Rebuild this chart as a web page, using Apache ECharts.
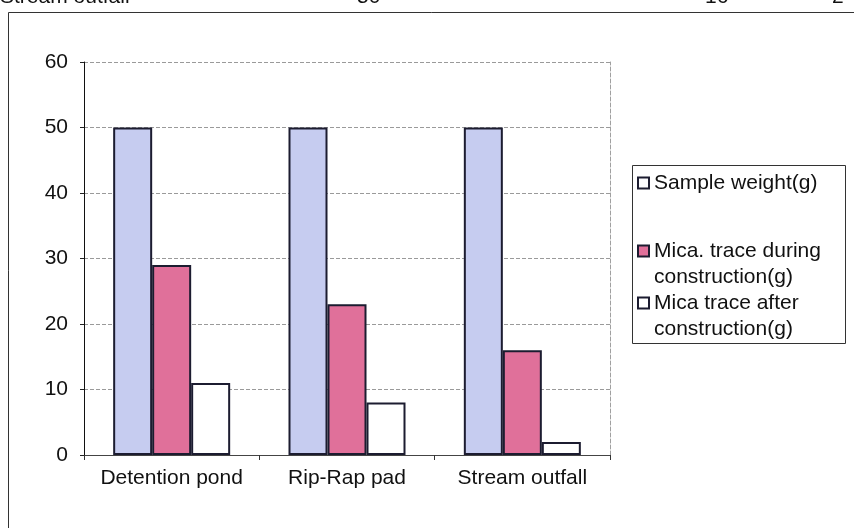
<!DOCTYPE html>
<html>
<head>
<meta charset="utf-8">
<script src="https://cdn.jsdelivr.net/npm/echarts@6/dist/echarts.min.js"></script>
<style>
  html, body { margin: 0; padding: 0; background: #ffffff; }
  #chart { width: 854px; height: 528px; }
</style>
</head>
<body>
<div id="chart"></div>
<script>
// Sampling sites
const categories = ['Detention pond', 'Rip-Rap pad', 'Stream outfall'];

// Weights in grams per site
const sampleWeight = [50, 50, 50];
const traceDuring = [29, 23, 16];
const traceAfter = [11, 8, 2];

const seriesNames = [
  'Sample weight(g)',
  'Mica. trace during construction(g)',
  'Mica trace after construction(g)'
];
// Wrapped legend captions; the leading blank line keeps the marker beside the first line
const legendLabels = {
  'Sample weight(g)': 'Sample weight(g)',
  'Mica. trace during construction(g)': ' \nMica. trace during\nconstruction(g)',
  'Mica trace after construction(g)': ' \nMica trace after\nconstruction(g)'
};

const yTicks = { min: 0, max: 60, interval: 10 };

const FONT = 'Arial, "Liberation Sans", sans-serif';
const BORDER = '#1c1c30';

const chart = echarts.init(document.getElementById('chart'), null, { renderer: 'canvas' });

function legendFor(name, top, iconColor) {
  return {
    data: [iconColor ? { name: name, itemStyle: { color: iconColor } } : name],
    orient: 'vertical',
    left: 637,
    top: top,
    padding: 0,
    icon: 'rect',
    itemWidth: 11,
    itemHeight: 11,
    selectedMode: false,
    formatter: n => legendLabels[n],
    textStyle: {
      fontFamily: FONT,
      fontSize: 21,
      lineHeight: 26,
      color: '#111'
    },
    z: 5
  };
}

// Last row of the data table printed above the chart (partly cut off)
const headerRow = [
  { text: categories[2], x: 0 },
  { text: String(sampleWeight[2]), x: 357 },
  { text: String(traceDuring[2]), x: 705 },
  { text: String(traceAfter[2]), x: 832 }
];

const option = {
  backgroundColor: '#ffffff',
  animation: false,
  grid: { left: 84, right: 244, top: 62, bottom: 73, containLabel: false },
  legend: [
    legendFor(seriesNames[0], 170, '#fbfbfd'),
    legendFor(seriesNames[1], 212),
    legendFor(seriesNames[2], 264)
  ],
  xAxis: {
    type: 'category',
    data: categories,
    axisLine: { show: true, lineStyle: { color: '#444', width: 1 } },
    axisTick: { show: true, alignWithLabel: false, length: 5, lineStyle: { color: '#333' } },
    axisLabel: { interval: 0, fontFamily: FONT, fontSize: 21, color: '#111', margin: 13 },
    splitLine: { show: false }
  },
  yAxis: [
    {
      type: 'value',
      min: yTicks.min,
      max: yTicks.max,
      interval: yTicks.interval,
      axisLine: { show: true, lineStyle: { color: '#111', width: 1 } },
      axisTick: { show: true, length: 4, lineStyle: { color: '#222' } },
      axisLabel: { fontFamily: FONT, fontSize: 21, color: '#111', margin: 16 },
      splitLine: { show: true, lineStyle: { color: '#9a9a9a', type: [4, 2], width: 1 } }
    },
    {
      // dashed right edge of the plot area
      type: 'value',
      position: 'right',
      min: yTicks.min,
      max: yTicks.max,
      interval: yTicks.interval,
      axisLine: { show: true, lineStyle: { color: '#a0a0a0', type: [4, 2], width: 1 } },
      axisTick: { show: false },
      axisLabel: { show: false },
      splitLine: { show: false }
    }
  ],
  series: [
    {
      name: seriesNames[0], type: 'bar', data: sampleWeight,
      barWidth: 39, barGap: '0%',
      itemStyle: { color: '#c6ccf0', borderColor: BORDER, borderWidth: 2 }
    },
    {
      name: seriesNames[1], type: 'bar', data: traceDuring,
      barWidth: 39, barGap: '0%',
      itemStyle: { color: '#e0709a', borderColor: BORDER, borderWidth: 2 }
    },
    {
      name: seriesNames[2], type: 'bar', data: traceAfter,
      barWidth: 39, barGap: '0%',
      itemStyle: { color: '#ffffff', borderColor: BORDER, borderWidth: 2 }
    }
  ],
  graphic: [
    // outer chart frame
    {
      type: 'rect', z: 0, silent: true,
      shape: { x: 8.5, y: 12.5, width: 900, height: 600 },
      style: { fill: 'none', stroke: '#333', lineWidth: 1 }
    },
    // legend box
    {
      type: 'rect', z: 0, silent: true,
      shape: { x: 632.5, y: 165.5, width: 213, height: 178 },
      style: { fill: 'none', stroke: '#333', lineWidth: 1 }
    }
  ].concat(headerRow.map(h => ({
    type: 'text', z: 3, silent: true,
    x: h.x, y: 8,
    style: { text: h.text, fill: '#111', font: '21px ' + FONT, verticalAlign: 'bottom' }
  })))
};

chart.setOption(option);
</script>
</body>
</html>
